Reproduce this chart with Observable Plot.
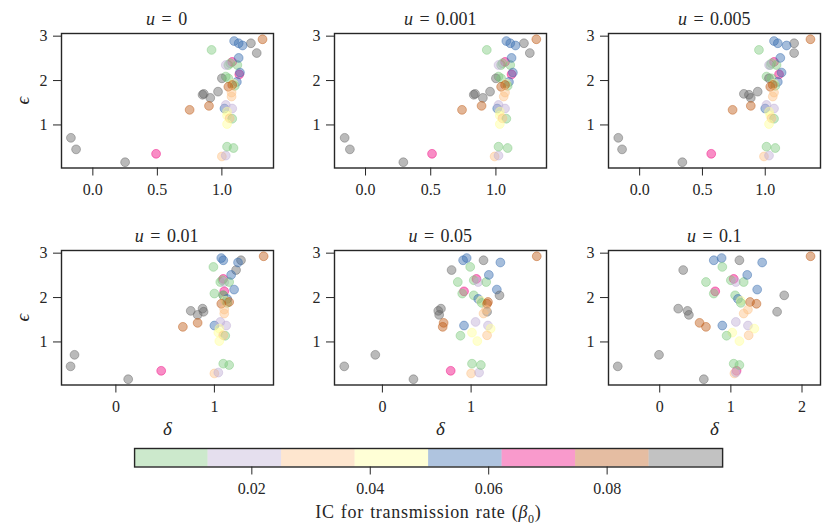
<!DOCTYPE html>
<html><head><meta charset="utf-8">
<script src="https://cdn.jsdelivr.net/npm/d3@7"></script>
<script src="https://cdn.jsdelivr.net/npm/@observablehq/plot@0.6"></script>
<style>
body{margin:0;background:#fff;}
#root{position:relative;width:830px;height:531px;font-family:"Liberation Serif","DejaVu Serif","Times New Roman",Times,serif;color:#262626;overflow:hidden}
.panel{position:absolute}
.panel svg{overflow:visible;font-family:"Liberation Serif","DejaVu Serif",serif !important}
.title{position:absolute;font-size:18px;line-height:20px;text-align:center;white-space:nowrap;font-weight:normal;word-spacing:2px}
[aria-label="y-axis label"] text,[aria-label="x-axis label"] text,[aria-label="y-axis label"],[aria-label="x-axis label"]{font-style:italic;font-size:19px}
</style></head><body><div id="root"></div><script>
const uLabels = ["0","0.001","0.005","0.01","0.05","0.1"];
const epsilon = [0.45,0.71,0.16,0.35,0.29,0.31,0.51,0.48,2.62,2.84,2.89,2.69,2.84,2.79,2.93,2.35,2.42,2.39,2.35,2.35,2.51,2.14,2.09,2.18,2.05,2.05,1.97,1.93,1.88,1.90,1.86,1.68,1.64,1.73,1.75,1.70,1.61,1.43,1.34,1.37,1.45,1.37,1.30,1.21,1.14,1.15,1.02];
const beta0 = [0.094,0.091,0.096,0.066,0.029,0.017,0.004,0.008,0.089,0.054,0.058,0.002,0.092,0.061,0.083,0.010,0.070,0.006,0.021,0.011,0.052,0.064,0.003,0.057,0.098,0.007,0.059,0.046,0.009,0.078,0.085,0.090,0.033,0.027,0.088,0.097,0.093,0.080,0.076,0.051,0.015,0.023,0.040,0.048,0.005,0.035,0.042];
const deltaU0 = [-0.13,-0.17,0.25,0.49,1.00,1.03,1.04,1.09,1.27,1.13,1.095,0.92,1.225,1.16,1.315,1.05,1.08,1.065,1.03,1.12,1.13,1.135,1.03,1.14,1.00,1.05,1.116,1.09,1.10,1.08,1.05,0.85,1.075,1.075,0.97,0.86,0.91,0.90,0.75,1.02,1.03,1.08,1.04,1.04,1.08,1.06,1.04];
const deltaU0001 = [-0.12,-0.16,0.29,0.51,0.99,1.02,1.02,1.09,1.26,1.11,1.08,0.93,1.215,1.15,1.31,1.04,1.07,1.05,1.02,1.11,1.12,1.12,1.02,1.13,1.00,1.04,1.10,1.08,1.09,1.07,1.04,0.83,1.06,1.07,0.955,0.84,0.90,0.89,0.74,1.01,1.02,1.07,1.03,1.03,1.08,1.05,1.03];
const deltaU0005 = [-0.14,-0.17,0.34,0.57,0.99,1.03,1.01,1.08,1.23,1.10,1.07,0.95,1.23,1.17,1.36,1.04,1.07,1.05,1.03,1.09,1.12,1.11,1.01,1.13,1.03,1.05,1.10,1.07,1.08,1.06,1.04,0.87,1.06,1.07,0.94,0.83,0.885,0.885,0.74,1.00,1.01,1.07,1.03,1.04,1.07,1.05,1.03];
const deltaU001 = [-0.46,-0.42,0.125,0.46,1.00,1.04,1.09,1.15,1.22,1.09,1.07,0.99,1.27,1.24,1.50,1.06,1.09,1.08,1.10,1.15,1.17,1.10,1.00,1.20,1.09,1.09,1.13,1.11,1.13,1.15,1.07,0.89,1.10,1.10,0.88,0.76,0.83,0.83,0.68,1.00,1.06,1.12,1.05,1.04,1.11,1.09,1.05];
const deltaU005 = [-0.43,-0.08,0.35,0.77,1.00,1.09,1.01,1.11,0.78,0.91,0.95,0.99,1.14,1.33,1.74,0.85,1.06,1.03,1.08,1.17,1.20,0.92,0.90,1.29,1.32,1.03,1.08,1.11,1.12,1.19,1.18,1.18,1.14,1.17,0.66,0.63,0.64,0.69,0.68,0.92,1.05,1.19,1.22,1.01,0.88,1.18,1.07];
const deltaU01 = [-0.59,-0.01,0.62,1.08,1.05,1.07,1.04,1.12,0.33,0.76,0.87,0.88,1.12,1.44,2.12,0.65,1.04,1.00,1.07,1.18,1.23,0.78,0.76,1.37,1.75,1.06,1.10,1.14,1.14,1.27,1.36,1.65,1.18,1.24,0.26,0.39,0.41,0.56,0.65,0.88,1.07,1.24,1.33,1.02,0.94,1.25,1.12];
const deltas = [deltaU0, deltaU0001, deltaU0005, deltaU001, deltaU005, deltaU01];
const xDomains = [[-0.243,1.40],[-0.238,1.388],[-0.248,1.44],[-0.552,1.60],[-0.54,1.85],[-0.72,2.26]];
const xTicks = [[0,0.5,1],[0,0.5,1],[0,0.5,1],[0,1],[0,1],[0,1,2]];
const yTicks = [1,2,3];
const yDomain = [0.03,3.06];
const cbTicks = [0.02,0.04,0.06,0.08];
const betaDomain = [0.0002,0.0995];
const accent = ["#7fc97f","#beaed4","#fdc086","#ffff99","#386cb0","#f0027f","#bf5b17","#666666"];
const nBins = accent.length;
const edges = d3.range(1,nBins).map(k => betaDomain[0] + k*(betaDomain[1]-betaDomain[0])/nBins);
const colorScale = {type:"threshold", domain: edges, range: accent};

const root = document.getElementById("root");
const frameLeft = [60.7, 334.3, 608.3];
const frameTop = [33.3, 250];
const frameW = 212, frameH = 134.5;
const mL = 56, mR = 6, mT = 6, mB = 58;
const font = {fontFamily:"'Liberation Serif', 'DejaVu Serif', serif", fontSize:"16px", color:"#262626", background:"transparent", maxWidth:"none", overflow:"visible"};

for (let p = 0; p < 6; p++) {
  const r = Math.floor(p/3), c = p % 3;
  const rows = epsilon.map((e,i) => ({delta: deltas[p][i], eps: e, beta: beta0[i]}));
  const chart = Plot.plot({
    width: frameW + mL + mR, height: frameH + mT + mB,
    marginLeft: mL, marginRight: mR, marginTop: mT, marginBottom: mB,
    style: font,
    x: {domain: xDomains[p], ticks: xTicks[p], tickFormat: r === 0 ? d3.format(".1f") : d3.format("d"), tickSize: 8, tickPadding: 8,
        label: r === 1 ? "δ" : null, labelAnchor: "center", labelOffset: 50, labelArrow: "none"},
    y: {domain: yDomain, ticks: yTicks, tickFormat: d3.format("d"), tickSize: 8, tickPadding: 6,
        label: c === 0 ? "ϵ" : null, labelAnchor: "center", labelOffset: 46, labelArrow: "none"},
    color: colorScale,
    marks: [
      Plot.dot(rows, {x:"delta", y:"eps", r:4.4, fill:"beta", fillOpacity:0.45, stroke:"beta", strokeOpacity:0.45, strokeWidth:1}),
      Plot.frame({stroke:"#262626", strokeWidth:1.4})
    ]
  });
  const div = document.createElement("div");
  div.className = "panel";
  div.style.left = (frameLeft[c] - mL) + "px";
  div.style.top = (frameTop[r] - mT) + "px";
  div.appendChild(chart);
  root.appendChild(div);
  const t = document.createElement("div");
  t.className = "title";
  t.style.left = frameLeft[c] + "px";
  t.style.width = frameW + "px";
  t.style.top = (r === 0 ? 9 : 226) + "px";
  t.innerHTML = "<i>u</i> = " + uLabels[p];
  root.appendChild(t);
}

// colorbar
const bins = accent.map((col,k) => ({
  x1: betaDomain[0] + k*(betaDomain[1]-betaDomain[0])/nBins,
  x2: betaDomain[0] + (k+1)*(betaDomain[1]-betaDomain[0])/nBins
}));
bins.forEach(b => b.mid = (b.x1+b.x2)/2);
const cbL = 134.3, cbR = 722.5, cbTop = 448, cbH = 18.5;
const cb = Plot.plot({
  width: (cbR-cbL) + 20, height: cbH + 2 + 34,
  marginLeft: 10, marginRight: 10, marginTop: 2, marginBottom: 34,
  style: font,
  x: {domain: betaDomain, ticks: cbTicks, tickFormat: d3.format(".2f"), tickSize: 8, tickPadding: 8, label: null},
  color: colorScale,
  marks: [
    Plot.rect(bins, {x1:"x1", x2:"x2", fill:"mid", fillOpacity:0.4}),
    Plot.frame({stroke:"#262626", strokeWidth:1.4})
  ]
});
const cbDiv = document.createElement("div");
cbDiv.className = "panel";
cbDiv.style.left = (cbL - 10) + "px";
cbDiv.style.top = (cbTop - 2) + "px";
cbDiv.appendChild(cb);
root.appendChild(cbDiv);
const cbt = document.createElement("div");
cbt.className = "title";
cbt.style.left = cbL + "px";
cbt.style.width = (cbR-cbL) + "px";
cbt.style.top = "502px";
cbt.style.fontSize = "18px";
cbt.style.letterSpacing = "0.7px";
cbt.style.wordSpacing = "1px";
cbt.innerHTML = "IC for transmission rate (<i>β</i><sub style='font-size:12px'>0</sub>)";
root.appendChild(cbt);
</script></body></html>
